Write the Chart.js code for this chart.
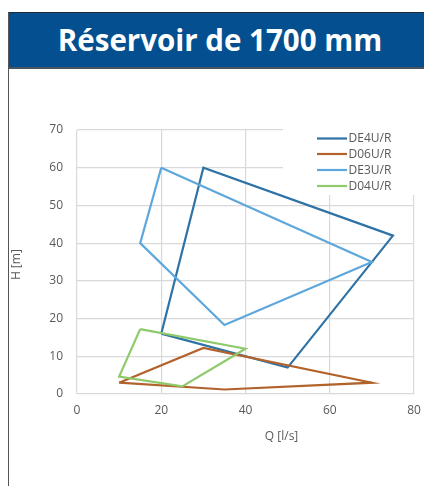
<!DOCTYPE html>
<html>
<head>
<meta charset="utf-8">
<script src="https://cdn.jsdelivr.net/npm/chart.js@4.4.0/dist/chart.umd.min.js"></script>
<style>
  html, body { margin: 0; padding: 0; background: #fff; width: 424px; height: 486px; overflow: hidden; }
  #band { position: absolute; left: 9px; top: 12px; width: 430px; height: 54px;
          background: #034F8F; border-top: 1px solid #1c2a3a; border-bottom: 2px solid #4a5560;
          color: #fff; font-family: "Open Sans", sans-serif; font-weight: bold; font-size: 29.5px;
          line-height: 54px; text-align: center; box-sizing: content-box; }
  #band span { position: relative; left: -4px; }
  #leftline { position: absolute; left: 8px; top: 12px; width: 1px; height: 480px; background: #555; }
  #wrap { position: absolute; left: 0; top: 0; width: 424px; height: 486px; }
</style>
</head>
<body>
<div id="band"><span>Réservoir de 1700 mm</span></div>
<div id="leftline"></div>
<div id="wrap"><canvas id="c"></canvas></div>
<script>
// ---- data ----
const seriesNames = ['DE4U/R', 'D06U/R', 'DE3U/R', 'D04U/R'];
const seriesColors = ['#2E72A6', '#B2622B', '#5DA7DC', '#8EC96B'];
const de4uQ = [20, 30, 75, 50, 20];
const de4uH = [16, 60, 42, 7, 16];
const d06uQ = [10, 30, 70, 35, 10];
const d06uH = [3, 12.2, 3, 1.2, 3];
const de3uQ = [20, 15, 35, 70, 20];
const de3uH = [60, 40, 18.3, 35, 60];
const d04uQ = [15, 40, 25, 10, 15];
const d04uH = [17.2, 12, 2, 4.6, 17.2];
const xTicks = [0, 20, 40, 60, 80];
const yTicks = [0, 10, 20, 30, 40, 50, 60, 70];
const xTitle = 'Q [l/s]';
const yTitle = 'H [m]';

const qLists = [de4uQ, d06uQ, de3uQ, d04uQ];
const hLists = [de4uH, d06uH, de3uH, d04uH];

const FONT = '"Open Sans", sans-serif';
const GREY = '#595959';

const datasets = seriesNames.map((name, i) => ({
  label: name,
  data: qLists[i].map((q, k) => ({ x: q, y: hLists[i][k] })),
  showLine: true,
  borderColor: seriesColors[i],
  backgroundColor: seriesColors[i],
  borderWidth: 2.2,
  pointRadius: 0,
  fill: false,
  tension: 0,
  order: seriesNames.length - i
}));

const overlay = {
  id: 'overlay',
  beforeDatasetsDraw(chart) {
    const ctx = chart.ctx, ca = chart.chartArea;
    ctx.save();
    // legend box (white, covers gridlines)
    ctx.fillStyle = '#fff';
    ctx.fillRect(283, ca.top - 2, ca.right - 283 + 3, 195 - ca.top + 2);
    ctx.font = '12px ' + FONT;
    ctx.textBaseline = 'middle';
    ctx.textAlign = 'left';
    const rowY = [138.5, 154, 170, 186];
    seriesNames.forEach((n, i) => {
      ctx.strokeStyle = seriesColors[i];
      ctx.lineWidth = 2.2;
      ctx.beginPath();
      ctx.moveTo(317, rowY[i]);
      ctx.lineTo(347, rowY[i]);
      ctx.stroke();
      ctx.fillStyle = GREY;
      ctx.fillText(n, 348.5, rowY[i] + 0.5);
    });
    ctx.restore();
  },
  afterDraw(chart) {
    const ctx = chart.ctx, ca = chart.chartArea;
    ctx.save();
    ctx.fillStyle = GREY;
    ctx.font = '12px ' + FONT;
    ctx.textAlign = 'center';
    ctx.textBaseline = 'middle';
    ctx.fillText(xTitle, ca.left + ca.width * 0.607, 437);
    ctx.translate(16.5, ca.top + ca.height * 0.51);
    ctx.rotate(-Math.PI / 2);
    ctx.fillText(yTitle, 0, 0);
    ctx.restore();
  }
};

new Chart(document.getElementById('c'), {
  type: 'scatter',
  data: { datasets },
  plugins: [overlay],
  options: {
    responsive: true,
    maintainAspectRatio: false,
    animation: false,
    layout: { padding: { left: 0, top: 130, right: 10, bottom: 62 } },
    plugins: { legend: { display: false }, tooltip: { enabled: false } },
    scales: {
      x: {
        type: 'linear', min: 0, max: 80,
        afterBuildTicks(s) { s.ticks = xTicks.map(v => ({ value: v })); },
        afterFit(s) { s.height = 30; s.paddingLeft = 0; s.paddingRight = 0; },
        grid: { color: '#d9d9d9', lineWidth: 1.2, drawTicks: false },
        border: { display: false },
        ticks: { color: GREY, font: { family: FONT, size: 12 }, padding: 9, maxRotation: 0 }
      },
      y: {
        type: 'linear', min: 0, max: 70,
        afterBuildTicks(s) { s.ticks = yTicks.map(v => ({ value: v })); },
        afterFit(s) { s.width = 77; s.paddingTop = 0; s.paddingBottom = 0; },
        grid: { color: '#d9d9d9', lineWidth: 1.2, drawTicks: false },
        border: { display: false },
        ticks: { color: GREY, font: { family: FONT, size: 12 }, padding: 14 }
      }
    }
  }
});
</script>
</body>
</html>
